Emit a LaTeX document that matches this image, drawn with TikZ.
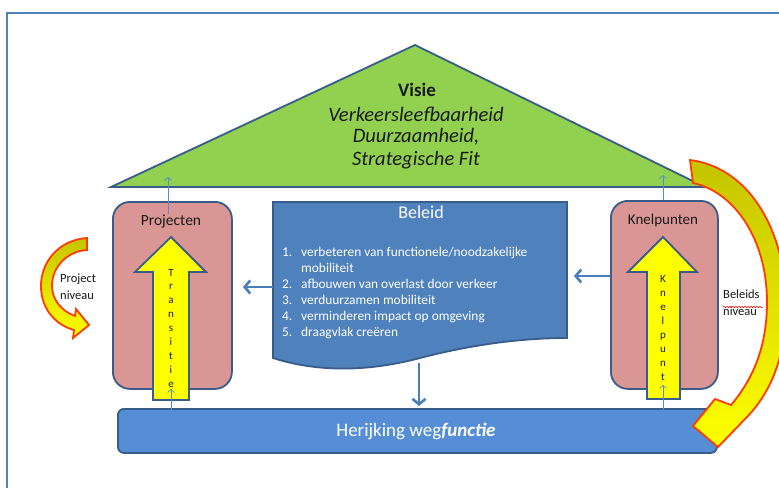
\documentclass[tikz,border=0pt]{standalone}
\usepackage{fontspec}
\setmainfont{Carlito}
\usetikzlibrary{arrows.meta,decorations.pathmorphing}
\definecolor{bord}{HTML}{385D8A}
\definecolor{conncol}{HTML}{4A7EBB}
\definecolor{thincol}{HTML}{5B8AC6}
\definecolor{framec}{HTML}{4F81BD}
\definecolor{trifill}{HTML}{92D050}
\definecolor{pinkc}{HTML}{D99694}
\definecolor{yelc}{HTML}{FFFF00}
\definecolor{belc}{HTML}{4F81BD}
\definecolor{herc}{HTML}{558ED5}
\definecolor{redor}{HTML}{FF3B00}
\definecolor{olivec}{HTML}{C4C400}
\definecolor{txt}{HTML}{1A1A1A}
\begin{document}
\begin{tikzpicture}[x=1pt,y=-1pt,
  bx/.style={draw=bord, line width=1.8pt},
  conn/.style={draw=conncol, line width=2.6pt, -{Straight Barb[length=5.5pt,width=13pt]}},
  thinarr/.style={draw=thincol, line width=0.7pt, -{Straight Barb[length=3pt,width=7pt]}},
  curvedarr/.style={draw=redor, line width=1.8pt, top color=olivec, bottom color=yelc},
  yarrow/.style={draw=bord, line width=1.8pt, fill=yelc},
  lbl/.style={text=txt, inner sep=0pt},
  letter/.style={text=txt, inner sep=0pt, anchor=base, font=\fontsize{11}{13}\selectfont},
  listtxt/.style={text=white, inner sep=0pt, anchor=base west, font=\fontsize{13.4}{16}\selectfont},
]
\useasboundingbox (0,0) rectangle (779,488);
\clip (0,0) rectangle (779,488);
\fill[white] (0,0) rectangle (779,488);

% frame
\draw[draw=framec, line width=2pt] (779,13) -- (7,13) -- (7,488);

% roof (Visie)
\draw[bx, fill=trifill, line join=miter] (111,187) -- (415,45) -- (705,187) -- cycle;
\node[lbl, font=\fontsize{19}{22}\selectfont\bfseries] (visie) at (417,90) {Visie};
\node[lbl, font=\fontsize{20.5}{24}\selectfont\itshape] (v1) at (416,114) {Verkeersleefbaarheid};
\node[lbl, font=\fontsize{20.5}{24}\selectfont\itshape] (v2) at (416,137) {Duurzaamheid,};
\node[lbl, font=\fontsize{20.5}{24}\selectfont\itshape] (v3) at (416,160) {Strategische Fit};

% Projecten box
\node[bx, fill=pinkc, rounded corners=17pt, minimum width=119pt, minimum height=187pt, anchor=north west] (proj) at (112,201) {};
\node[lbl, font=\fontsize{15.5}{18}\selectfont] (projt) at (171,221) {Projecten};

% Knelpunten box
\node[bx, fill=pinkc, rounded corners=17pt, minimum width=107pt, minimum height=188pt, anchor=north west] (knel) at (610,200) {};
\node[lbl, font=\fontsize{15}{18}\selectfont] (knelt) at (663,220) {Knelpunten};

% Herijking box
\node[bx, fill=herc, rounded corners=6pt, minimum width=599pt, minimum height=44pt, anchor=north west] (her) at (117,408) {};
\node[lbl, text=white, font=\fontsize{19}{22}\selectfont] (hert) at (416,431) {Herijking weg\textbf{\textit{functie}}};

% yellow arrows
\draw[yarrow] (153,400) -- (153,272) -- (135,272) -- (171,237) -- (206,272) -- (189,272) -- (189,400) -- cycle;
\draw[yarrow] (647,399) -- (647,272) -- (628,272) -- (663,237) -- (697,272) -- (680,272) -- (680,399) -- cycle;
\foreach \l [count=\i from 0] in {T,r,a,n,s,i,t,i,e}
  \node[letter] (tr\i) at (171,276+\i*13.9) {\l};
\foreach \l [count=\i from 0] in {K,n,e,l,p,u,n,t}
  \node[letter] (kn\i) at (663,282+\i*14) {\l};

% Beleid document
\draw[bx, fill=belc] (273,202) -- (567,202) -- (567,338)
   .. controls (520,338) and (470,345) .. (420,358)
   .. controls (360,374) and (310,370) .. (273,358) -- cycle;
\node[lbl, text=white, font=\fontsize{18}{21}\selectfont] (belt) at (421,212) {Beleid};
\node[listtxt] (n1) at (282,256) {1.};
\node[listtxt] (l1) at (301,256) {verbeteren van functionele/noodzakelijke};
\node[listtxt] (l1b) at (301,272) {mobiliteit};
\node[listtxt] (n2) at (282,288) {2.};
\node[listtxt] (l2) at (301,288) {afbouwen van overlast door verkeer};
\node[listtxt] (n3) at (282,304) {3.};
\node[listtxt] (l3) at (301,304) {verduurzamen mobiliteit};
\node[listtxt] (n4) at (282,320) {4.};
\node[listtxt] (l4) at (301,320) {verminderen impact op omgeving};
\node[listtxt] (n5) at (282,336) {5.};
\node[listtxt] (l5) at (301,336) {draagvlak creëren};

% connector coordinates
\coordinate (belW) at (273,287);
\coordinate (projE) at (243,287);
\coordinate (knelW) at (610,276);
\coordinate (belE) at (574,276);
\coordinate (belS) at (419,363);
\coordinate (herN) at (419,406);
\draw[conn] (belW) -- (projE);
\draw[conn] (knelW) -- (belE);
\draw[conn] (belS) -- (herN);

% thin arrows
\coordinate (pT) at (168,214);
\coordinate (rL) at (168,177);
\coordinate (kT) at (663,200);
\coordinate (rR) at (663,175);
\coordinate (hL) at (171,424);
\coordinate (aL) at (171,389);
\coordinate (hR) at (663,420);
\coordinate (aR) at (663,385);
\draw[thinarr] (pT) -- (rL);
\draw[thinarr] (kT) -- (rR);
\draw[thinarr] (hL) -- (aL);
\draw[thinarr] (hR) -- (aR);

% curved arrow: Project niveau
\draw[curvedarr, line join=miter] (87,238) .. controls (58,240) and (40,263) .. (41,288)
   .. controls (42,310) and (56,325) .. (74,330) -- (73,338) -- (89,325) -- (76,309) -- (75,316)
   .. controls (61,311) and (52,299) .. (52,286) .. controls (52,266) and (68,251) .. (87,250) -- cycle;
\node[lbl, anchor=north west, align=left, font=\fontsize{12.5}{17}\selectfont] (projniv) at (60,274) {Project\\niveau};

% curved arrow: Beleids niveau
\draw[curvedarr, line join=miter] (690,160) .. controls (752,168) and (786,235) .. (786,305)
   .. controls (786,358) and (770,393) .. (747,417) -- (718,447) -- (693,426) -- (715,399) -- (731,405)
   .. controls (754,378) and (767,345) .. (767,302) .. controls (767,240) and (735,192) .. (693,183) -- cycle;
\node[lbl, anchor=north west, align=left, font=\fontsize{12.5}{17}\selectfont] (belniv) at (723,290) {Beleids\\niveau};
\draw[red, line width=0.5pt, decorate, decoration={snake, amplitude=0.7pt, segment length=3pt}] (723,307) -- (763,307);
\end{tikzpicture}
\end{document}
